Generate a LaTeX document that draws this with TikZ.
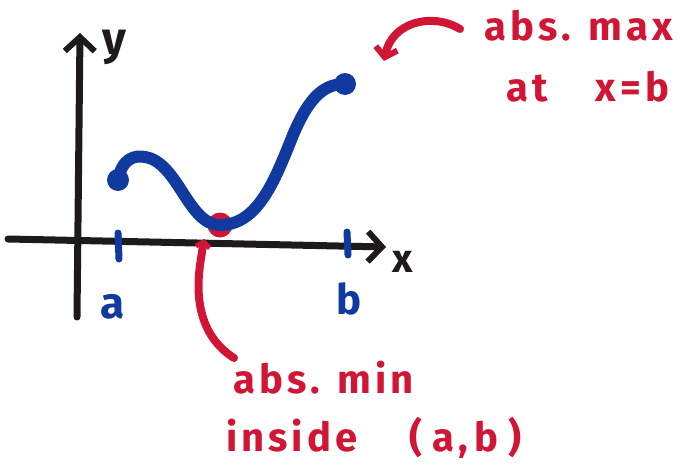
\documentclass[tikz,border=0pt]{standalone}
\usepackage{fontspec}
\usetikzlibrary{arrows.meta}
\newfontfamily\hand[LetterSpace=10]{Fira Sans}
\definecolor{mred}{RGB}{208,22,52}
\definecolor{mblue}{RGB}{16,58,160}
\definecolor{mblack}{RGB}{30,26,28}
\tikzset{
  axis/.style={draw=mblack, line width=7pt, line cap=round, -{Straight Barb[length=14pt,width=30pt,line width=6pt]}},
  tickmark/.style={draw=mblue, line width=7pt, line cap=round},
  curve/.style={draw=mblue, line width=12pt, line cap=round},
  pointer/.style={draw=mred, line width=8pt, line cap=round},
  lbl/.style={font=\hand\bfseries\fontsize{40}{42}\selectfont, inner sep=0pt, anchor=base west},
  enddot/.style={circle, fill=mblue, minimum size=22pt, inner sep=0pt},
  mindot/.style={circle, fill=mred, minimum size=25pt, inner sep=0pt}
}
\begin{document}
\begin{tikzpicture}[x=1pt,y=-1pt]
\useasboundingbox (0,0) rectangle (698,471);
% axes
\coordinate (xs) at (8,239);
\coordinate (xe) at (386,247);
\coordinate (ys) at (77,317);
\coordinate (ye) at (80,33);
\draw[axis] (xs) -- (xe);
\draw[axis] (ys) -- (ye);
\node[lbl, text=mblack, font=\hand\bfseries\fontsize{46}{48}\selectfont] (ylab) at (102,54) {y};
\node[lbl, text=mblack] (xlab) at (392,272) {x};
% ticks
\coordinate (ta1) at (118,233);
\coordinate (ta2) at (119,259);
\coordinate (tb1) at (347,232);
\coordinate (tb2) at (348,255);
\draw[tickmark] (ta1) -- (ta2);
\draw[tickmark] (tb1) -- (tb2);
\node[lbl, text=mblue, font=\hand\bfseries\fontsize{44}{46}\selectfont] (alab) at (100,318) {a};
\node[lbl, text=mblue, font=\hand\bfseries\fontsize{42}{44}\selectfont] (blab) at (336,314) {b};
% curve
\coordinate (cA) at (118,180);
\coordinate (cM) at (220,225);
\coordinate (cB) at (345,84);
\node[mindot] (mdot) at (cM) {};
\draw[curve] (cA) .. controls (122,158) and (135,155) .. (145,157)
  .. controls (178,162) and (188,225) .. (cM)
  .. controls (258,225) and (275,180) .. (293,135)
  .. controls (310,95) and (325,84) .. (cB);
\node[enddot] (adot) at (cA) {};
\node[enddot] (bdot) at (cB) {};
% red annotations
\node[lbl, text=mred] (maxa) at (484,40) {abs. max};
\node[lbl, text=mred] (maxb) at (506,101) {at\hspace{48pt}x\hspace{4pt}=\hspace{5pt}b};
\node[lbl, text=mred] (mina) at (233,393) {abs. min};
\node[lbl, text=mred] (minb) at (226,451) {inside\hspace{52pt}(\hspace{10pt}a,\hspace{7pt}b\hspace{10pt})};
\coordinate (pmaxs) at (460,29);
\coordinate (pmaxe) at (384,61);
\draw[pointer, -{Straight Barb[length=9pt,width=22pt,line width=6pt]}] (pmaxs) .. controls (432,12) and (392,22) .. (pmaxe);
\coordinate (pmins) at (234,358);
\coordinate (pmine) at (204,239);
\draw[pointer, -{Straight Barb[length=5pt,width=14pt,line width=5pt]}] (pmins) .. controls (198,335) and (196,295) .. (200,265) -- (pmine);
\end{tikzpicture}
\end{document}
